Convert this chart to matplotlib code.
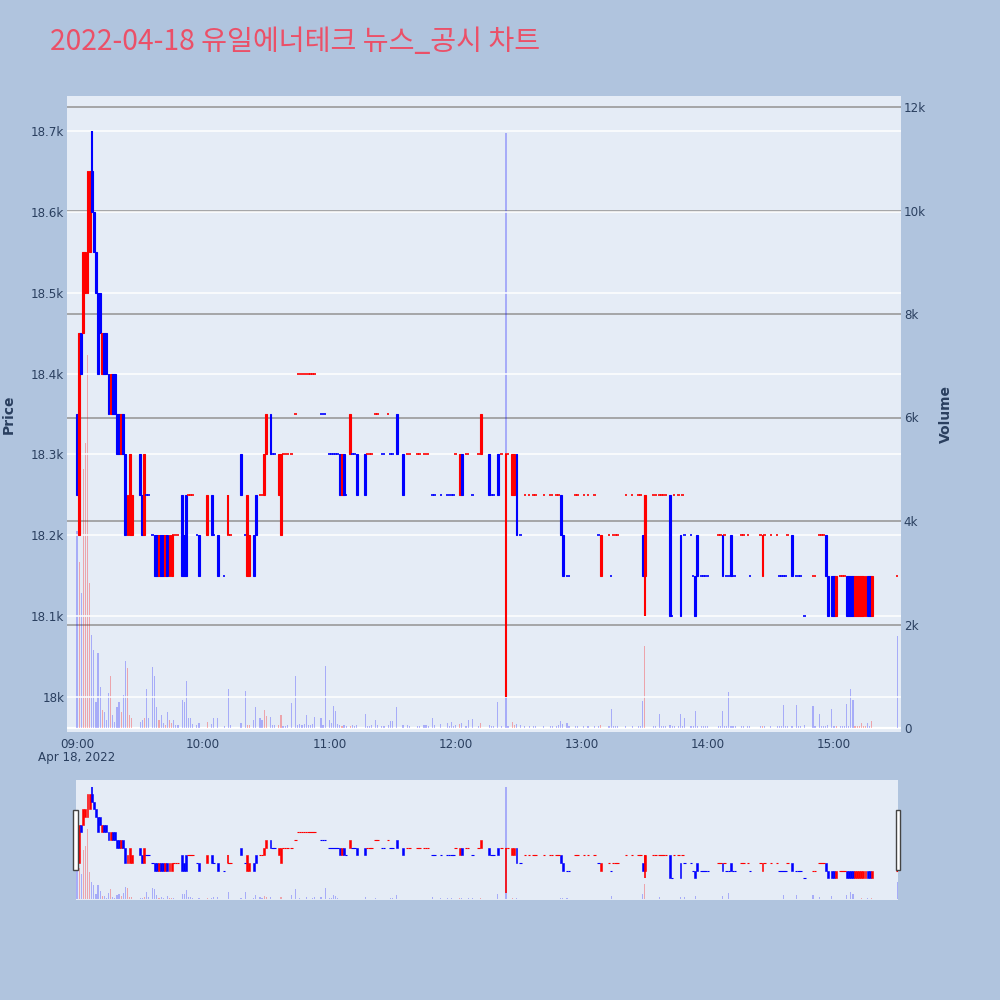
import matplotlib
matplotlib.use("Agg")
import matplotlib.pyplot as plt
from matplotlib.patches import Rectangle
import numpy as np

plt.rcParams['font.family'] = ['DejaVu Sans']

# ---------------- text / ticks ----------------
TITLE = "2022-04-18 유일에너테크 뉴스_공시 차트"
DATE_LABEL = "Apr 18, 2022"
x_tick_minutes = [0, 60, 120, 180, 240, 300, 360]
x_tick_labels = ["09:00", "10:00", "11:00", "12:00", "13:00", "14:00", "15:00"]
price_ticks = [18000, 18100, 18200, 18300, 18400, 18500, 18600, 18700]
price_tick_labels = ["18k", "18.1k", "18.2k", "18.3k", "18.4k", "18.5k", "18.6k", "18.7k"]
volume_ticks = [0, 2000, 4000, 6000, 8000, 10000, 12000]
volume_tick_labels = ["0", "2k", "4k", "6k", "8k", "10k", "12k"]

# ---------------- data (minutes after 09:00) ----------------
minutes = [0, 1, 2, 3, 4, 5, 6, 7, 8, 9, 10, 11, 12, 13, 14, 15, 16, 17, 18, 19,
           20, 21, 22, 23, 24, 25, 26, 30, 31, 32, 33, 34, 36, 37, 38, 39, 40, 41, 42, 43,
           44, 45, 46, 47, 48, 50, 51, 52, 53, 54, 55, 57, 58, 62, 64, 65, 67, 70, 72, 73,
           78, 80, 81, 82, 84, 85, 87, 88, 89, 90, 92, 93, 94, 96, 97, 98, 99, 100, 102, 104,
           105, 106, 107, 108, 109, 110, 111, 112, 113, 116, 117, 118, 120, 121, 122, 123, 124, 125, 126, 127,
           128, 130, 131, 132, 133, 137, 138, 139, 140, 142, 143, 145, 146, 148, 149, 150, 152, 155, 157, 158,
           162, 163, 165, 166, 167, 169, 170, 173, 176, 177, 178, 179, 180, 182, 183, 185, 186, 188, 191, 192,
           196, 197, 198, 200, 202, 204, 205, 207, 208, 209, 211, 213, 215, 217, 218, 222, 225, 226, 228, 229,
           230, 231, 233, 234, 237, 238, 241, 243, 246, 248, 249, 253, 254, 255, 256, 257, 261, 264, 267, 268,
           269, 270, 274, 275, 277, 278, 279, 280, 282, 283, 284, 286, 287, 288, 289, 292, 293, 294, 295, 297,
           298, 299, 300, 305, 306, 307, 308, 309, 310, 311, 312, 313, 316, 317, 319, 320, 325, 326, 327, 330,
           333, 334, 335, 336, 337, 338, 340, 342, 343, 344, 346, 350, 351, 353, 354, 355, 356, 357, 359, 360,
           361, 363, 364, 365, 366, 367, 368, 369, 370, 371, 372, 373, 374, 375, 376, 377, 378, 390]

opens = [18350, 18200, 18450, 18450, 18500, 18500, 18550, 18650, 18600, 18550, 18500, 18500, 18400, 18450, 18450, 18400, 18350, 18400, 18400, 18350,
         18350, 18300, 18350, 18300, 18200, 18200, 18200, 18300, 18250, 18200, 18250, 18250, 18200, 18200, 18200, 18150, 18200, 18200, 18150, 18200,
         18150, 18150, 18200, 18200, 18200, 18250, 18200, 18250, 18250, 18250, 18250, 18200, 18200, 18200, 18250, 18200, 18200, 18150, 18200, 18200,
         18300, 18200, 18150, 18150, 18200, 18250, 18250, 18250, 18250, 18300, 18350, 18300, 18300, 18250, 18200, 18300, 18300, 18300, 18300, 18350,
         18400, 18400, 18400, 18400, 18400, 18400, 18400, 18400, 18400, 18350, 18350, 18350, 18300, 18300, 18300, 18300, 18300, 18300, 18250, 18300,
         18250, 18300, 18300, 18300, 18300, 18300, 18300, 18300, 18300, 18350, 18350, 18300, 18300, 18350, 18300, 18300, 18350, 18300, 18300, 18300,
         18300, 18300, 18300, 18300, 18300, 18250, 18250, 18250, 18250, 18250, 18250, 18250, 18300, 18250, 18300, 18300, 18300, 18250, 18300, 18300,
         18300, 18250, 18250, 18300, 18300, 18300, 18300, 18250, 18250, 18300, 18200, 18250, 18250, 18250, 18250, 18250, 18250, 18250, 18250, 18250,
         18250, 18200, 18150, 18150, 18250, 18250, 18250, 18250, 18250, 18200, 18150, 18200, 18150, 18200, 18200, 18200, 18250, 18250, 18250, 18250,
         18200, 18150, 18250, 18250, 18250, 18250, 18250, 18250, 18250, 18100, 18250, 18250, 18200, 18250, 18200, 18200, 18150, 18150, 18200, 18150,
         18150, 18150, 18150, 18200, 18200, 18200, 18200, 18150, 18150, 18200, 18150, 18150, 18200, 18200, 18200, 18150, 18200, 18150, 18200, 18200,
         18200, 18150, 18150, 18150, 18150, 18200, 18200, 18150, 18150, 18150, 18100, 18150, 18150, 18200, 18200, 18200, 18200, 18150, 18150, 18150,
         18100, 18150, 18150, 18150, 18150, 18150, 18150, 18150, 18100, 18100, 18100, 18100, 18100, 18100, 18150, 18150, 18100, 18150]

closes = [18250, 18450, 18400, 18550, 18550, 18650, 18650, 18600, 18550, 18500, 18400, 18450, 18450, 18400, 18400, 18350, 18400, 18350, 18350, 18300,
          18300, 18350, 18300, 18200, 18250, 18300, 18250, 18250, 18200, 18300, 18250, 18250, 18200, 18150, 18150, 18200, 18150, 18150, 18200, 18150,
          18200, 18200, 18200, 18200, 18200, 18150, 18150, 18150, 18250, 18250, 18250, 18200, 18150, 18250, 18200, 18200, 18150, 18150, 18200, 18200,
          18250, 18200, 18250, 18200, 18150, 18200, 18250, 18250, 18300, 18350, 18300, 18300, 18300, 18300, 18300, 18300, 18300, 18300, 18300, 18350,
          18400, 18400, 18400, 18400, 18400, 18400, 18400, 18400, 18400, 18350, 18350, 18350, 18300, 18300, 18300, 18300, 18300, 18250, 18300, 18250,
          18250, 18350, 18300, 18300, 18250, 18250, 18300, 18300, 18300, 18350, 18350, 18300, 18300, 18350, 18300, 18300, 18300, 18250, 18300, 18300,
          18300, 18300, 18300, 18300, 18300, 18250, 18250, 18250, 18250, 18250, 18250, 18250, 18300, 18300, 18250, 18300, 18300, 18250, 18300, 18350,
          18250, 18250, 18250, 18250, 18300, 18300, 18300, 18300, 18300, 18200, 18200, 18250, 18250, 18250, 18250, 18250, 18250, 18250, 18250, 18250,
          18200, 18150, 18150, 18150, 18250, 18250, 18250, 18250, 18250, 18200, 18200, 18200, 18150, 18200, 18200, 18200, 18250, 18250, 18250, 18250,
          18150, 18250, 18250, 18250, 18250, 18250, 18250, 18250, 18100, 18100, 18250, 18250, 18100, 18250, 18200, 18200, 18150, 18100, 18150, 18150,
          18150, 18150, 18150, 18200, 18200, 18150, 18200, 18150, 18150, 18150, 18150, 18150, 18200, 18200, 18200, 18150, 18200, 18200, 18200, 18200,
          18200, 18150, 18150, 18150, 18150, 18200, 18150, 18150, 18150, 18150, 18100, 18150, 18150, 18200, 18200, 18200, 18150, 18100, 18100, 18100,
          18150, 18150, 18150, 18150, 18100, 18100, 18100, 18100, 18150, 18150, 18150, 18150, 18150, 18150, 18100, 18100, 18150, 18150]

volumes = [3800, 3200, 2600, 5000, 5500, 7200, 2800, 1800, 1500, 500, 1450, 800, 350, 300, 150, 670, 1000, 250, 120, 400,
           500, 300, 630, 1300, 1150, 250, 200, 120, 150, 200, 750, 200, 1170, 1000, 400, 150, 250, 100, 50, 300,
           150, 100, 150, 50, 60, 550, 500, 900, 200, 200, 80, 60, 100, 120, 80, 200, 190, 40, 750, 50,
           90, 720, 60, 50, 150, 400, 190, 150, 350, 230, 220, 60, 50, 60, 260, 40, 40, 50, 480, 1000,
           60, 80, 50, 70, 250, 60, 50, 80, 220, 190, 60, 1200, 150, 100, 420, 330, 80, 50, 40, 60,
           40, 40, 50, 40, 60, 270, 40, 40, 50, 150, 60, 40, 40, 60, 130, 140, 400, 60, 50, 40,
           40, 40, 50, 50, 40, 190, 60, 80, 100, 40, 120, 40, 60, 80, 100, 40, 150, 170, 40, 100,
           60, 40, 40, 500, 40, 11500, 40, 120, 60, 80, 50, 40, 40, 40, 40, 40, 40, 40, 40, 60,
           140, 80, 100, 40, 40, 40, 40, 40, 40, 40, 50, 40, 360, 40, 40, 40, 40, 40, 40, 40,
           530, 1580, 40, 40, 280, 40, 40, 40, 60, 40, 40, 40, 280, 40, 190, 40, 40, 330, 40, 40,
           40, 40, 40, 40, 40, 320, 40, 40, 690, 40, 40, 40, 40, 40, 40, 40, 40, 40, 40, 40,
           40, 40, 40, 440, 40, 40, 40, 440, 40, 40, 60, 430, 40, 280, 40, 40, 40, 60, 360, 40,
           40, 40, 40, 40, 460, 40, 750, 540, 40, 40, 40, 100, 40, 40, 100, 40, 130, 1780]

wick_minutes = [7, 72, 204, 270]
wick_highs = [18700, 18250, 18300, 18250]
wick_lows = [18600, 18200, 18000, 18100]

# ---------------- style ----------------
BG = '#B0C4DE'
PLOT_BG = '#E5ECF6'
RED = '#FF0000'
BLUE = '#0000FF'
TXT = '#2a3f5f'

m = np.array(minutes, dtype=float)
o = np.array(opens, dtype=float)
c = np.array(closes, dtype=float)
v = np.array(volumes, dtype=float)

# direction: flat candles take colour from change vs previous close
up = []
prev_c, prev_up = None, True
for oo, cc in zip(opens, closes):
    if cc > oo:
        u = True
    elif cc < oo:
        u = False
    elif prev_c is None:
        u = True
    elif cc > prev_c:
        u = True
    elif cc < prev_c:
        u = False
    else:
        u = prev_up
    up.append(u)
    prev_c, prev_up = cc, u
up = np.array(up)
cols = np.where(up, RED, BLUE)
vol_cols = [(1, 0, 0, 0.3) if cc > oo else (0, 0, 1, 0.27) for oo, cc in zip(opens, closes)]


def draw(axp, axv, body_lw, flat_lw, wick_lw, vol_w):
    real = o != c
    flat = ~real
    axv.bar(m, v, width=vol_w, color=vol_cols, linewidth=0, zorder=2)
    for wm, wh, wl in zip(wick_minutes, wick_highs, wick_lows):
        i = minutes.index(wm)
        axp.vlines(wm, wl, wh, colors=cols[i], lw=wick_lw, zorder=3)
    axp.bar(m[real], np.abs(c - o)[real], bottom=np.minimum(o, c)[real], width=0.9,
            color=cols[real], edgecolor=cols[real], linewidth=body_lw, zorder=4)
    axp.hlines(o[flat], m[flat] - 0.6, m[flat] + 0.6, colors=cols[flat], lw=flat_lw, zorder=4)


fig = plt.figure(figsize=(10, 10), dpi=100, facecolor=BG)

W, H = 1000.0, 1000.0
PX_PER_MIN = 757.0 / 360.0
X0 = 77.0  # pixel of 09:00

# main axes
L, R, T, B = 67, 901, 96, 732
ax_v = fig.add_axes([L / W, 1 - B / H, (R - L) / W, (B - T) / H])
ax_v.set_facecolor(PLOT_BG)
ax_p = ax_v.twinx()
ax_v.yaxis.tick_right()
ax_p.yaxis.tick_left()

ax_v.set_xlim((L - X0) / PX_PER_MIN, (R - X0) / PX_PER_MIN)
vpp = 1000.0 / 51.75
ax_v.set_ylim(-(B - 728) * vpp, 12000 + (107 - T) * vpp)
ppp = 100.0 / 80.86
ax_p.set_ylim(18000 - (B - 697) * ppp, 18700 + (131 - T) * ppp)

for vt in volume_ticks[1:]:
    ax_v.axhline(vt, color='#9a9a9a', lw=1.2, zorder=0.5)
ax_v.axhline(0, color='white', lw=1.6, zorder=0.6)
for pt in price_ticks:
    ax_p.axhline(pt, color='white', lw=1.1, zorder=1)

draw(ax_p, ax_v, body_lw=0.8, flat_lw=1.2, wick_lw=1.5, vol_w=0.55)

for a in (ax_v, ax_p):
    for s in a.spines.values():
        s.set_visible(False)

ax_v.set_xticks(x_tick_minutes)
ax_v.set_xticklabels(x_tick_labels)
ax_v.set_yticks(volume_ticks)
ax_v.set_yticklabels(volume_tick_labels)
ax_p.set_yticks(price_ticks)
ax_p.set_yticklabels(price_tick_labels)
ax_v.tick_params(axis='x', length=0, pad=4, labelsize=8.6, colors=TXT)
ax_v.tick_params(axis='y', length=0, pad=2, labelsize=8.6, colors=TXT)
ax_p.tick_params(axis='y', length=0, pad=2, labelsize=8.6, colors=TXT)

fig.text(X0 / W, 1 - 758 / H, DATE_LABEL, ha='center', va='center', fontsize=8.6, color=TXT)
fig.text(9 / W, 1 - 414 / H, 'Price', rotation=90, ha='center', va='center',
         fontsize=10, fontweight='bold', color=TXT)
fig.text(946 / W, 1 - 414 / H, 'Volume', rotation=90, ha='center', va='center',
         fontsize=10, fontweight='bold', color=TXT)

fig.text(50 / W, 1 - 50.5 / H, TITLE, ha='left', va='baseline', fontsize=20.3,
         color='#EB5068', family=['Noto Sans CJK KR', 'DejaVu Sans'])

# range slider
SL, SR, ST, SB = 76, 898, 780, 900
ax_sv = fig.add_axes([SL / W, 1 - SB / H, (SR - SL) / W, (SB - ST) / H])
ax_sv.set_facecolor(PLOT_BG)
ax_sp = ax_sv.twinx()
ax_sv.set_xlim((SL - X0) / PX_PER_MIN, (SR - X0) / PX_PER_MIN)
ax_sv.set_ylim(ax_v.get_ylim())
ax_sp.set_ylim(ax_p.get_ylim())
draw(ax_sp, ax_sv, body_lw=0.4, flat_lw=0.8, wick_lw=1.2, vol_w=0.55)
for a in (ax_sv, ax_sp):
    a.set_xticks([])
    a.set_yticks([])
    for s in a.spines.values():
        s.set_visible(False)

for hx in (73.3, 896.0):
    fig.patches.append(Rectangle((hx / W, 1 - 870 / H), 4.4 / W, 60 / H, transform=fig.transFigure,
                                 facecolor='white', edgecolor='#444444', lw=1.0, zorder=10))

fig.savefig('out.png', dpi=100, facecolor=BG)
